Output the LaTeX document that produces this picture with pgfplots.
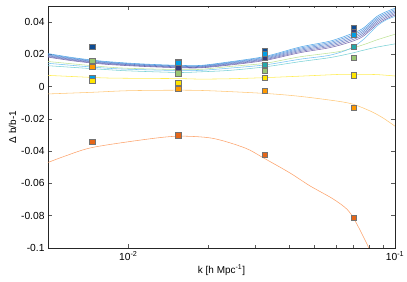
\documentclass[border=0pt]{standalone}
\usepackage{fontspec}
\setmainfont{Liberation Sans}
\usepackage{pgfplots}
\pgfplotsset{compat=1.18}
\definecolor{lA}{rgb}{0.25,0.62,0.90}
\definecolor{lB}{rgb}{0.29,0.56,0.86}
\definecolor{lC}{rgb}{0.32,0.51,0.81}
\definecolor{lD}{rgb}{0.35,0.46,0.76}
\definecolor{lE}{rgb}{0.38,0.41,0.71}
\definecolor{lF}{rgb}{0.42,0.36,0.66}
\definecolor{lGreen}{rgb}{0.72,0.88,0.55}
\definecolor{lLblue}{rgb}{0.40,0.74,0.95}
\definecolor{lTeal}{rgb}{0.42,0.80,0.82}
\definecolor{lYellow}{rgb}{1.00,0.92,0.25}
\definecolor{lLorange}{rgb}{1.00,0.76,0.42}
\definecolor{lOrange}{rgb}{0.99,0.60,0.36}
\definecolor{mNavy}{rgb}{0.05,0.30,0.58}
\definecolor{mBlue}{rgb}{0.00,0.62,0.90}
\definecolor{mPurple}{rgb}{0.22,0.24,0.48}
\definecolor{mTeal}{rgb}{0.15,0.66,0.66}
\definecolor{mGreen}{rgb}{0.60,0.78,0.45}
\definecolor{mYellow}{rgb}{1.00,0.90,0.00}
\definecolor{mOrange}{rgb}{1.00,0.60,0.00}
\definecolor{mDorange}{rgb}{0.90,0.40,0.10}
\pgfplotsset{
  ln/.style={no marks, smooth, tension=0.5, line width=0.55pt, opacity=0.9},
  mk/.style={only marks, mark=square*, mark size=2.6pt, mark options={draw=black!55, line width=0.6pt, fill=#1}},
}
\begin{document}
\fontsize{10}{12}\selectfont
\begin{tikzpicture}
\begin{axis}[
  scale only axis, width=347bp, height=242bp,
  xmode=log, xmin=0.005, xmax=0.1, ymin=-0.1, ymax=0.05,
  xtick={0.01,0.1}, xticklabels={10\textsuperscript{-2},10\textsuperscript{-1}},
  ytick={-0.1,-0.08,-0.06,-0.04,-0.02,0,0.02,0.04},
  yticklabels={-0.1,-0.08,-0.06,-0.04,-0.02,0,0.02,0.04},
  tick align=inside, major tick length=4bp, minor tick length=2.5bp,
  axis line style={black!85, line width=0.7pt},
  tick style={black!65, line width=0.5pt},
  xlabel={k [h Mpc\textsuperscript{-1}]}, ylabel={Δ b/b-1},
  xlabel style={yshift=2bp},
  ylabel style={yshift=-2bp},
  ticklabel style={font=\fontsize{10.3}{12}\selectfont},
  label style={font=\fontsize{10}{12}\selectfont},
  clip=true,
]
% bundle lines
\addplot[ln, lA] coordinates {(0.005,0.0205)(0.0062,0.0180)(0.0079,0.0159)(0.01,0.0146)(0.0125,0.01375)(0.0154,0.01325)(0.0186,0.01315)(0.024,0.0154)(0.0326,0.01875)(0.044,0.02455)(0.057,0.0282)(0.0677,0.0324)(0.0758,0.0361)(0.0855,0.0435)(0.093,0.04655)(0.1,0.0486)};
\addplot[ln, lB] coordinates {(0.005,0.02006)(0.0062,0.0176)(0.0079,0.01554)(0.01,0.01428)(0.0125,0.01345)(0.0154,0.01295)(0.0186,0.01285)(0.024,0.0150)(0.0326,0.01825)(0.044,0.02385)(0.057,0.0274)(0.0677,0.03144)(0.0758,0.0351)(0.0855,0.0425)(0.093,0.04565)(0.1,0.04776)};
\addplot[ln, lC] coordinates {(0.005,0.01962)(0.0062,0.0172)(0.0079,0.01518)(0.01,0.01396)(0.0125,0.01315)(0.0154,0.01265)(0.0186,0.01255)(0.024,0.0146)(0.0326,0.01775)(0.044,0.02315)(0.057,0.0266)(0.0677,0.03048)(0.0758,0.0341)(0.0855,0.0415)(0.093,0.04475)(0.1,0.04692)};
\addplot[ln, lD] coordinates {(0.005,0.01918)(0.0062,0.0168)(0.0079,0.01482)(0.01,0.01364)(0.0125,0.01285)(0.0154,0.01235)(0.0186,0.01225)(0.024,0.0142)(0.0326,0.01725)(0.044,0.02245)(0.057,0.0258)(0.0677,0.02952)(0.0758,0.0331)(0.0855,0.0405)(0.093,0.04385)(0.1,0.04608)};
\addplot[ln, lE] coordinates {(0.005,0.01874)(0.0062,0.0164)(0.0079,0.01446)(0.01,0.01332)(0.0125,0.01255)(0.0154,0.01205)(0.0186,0.01195)(0.024,0.0138)(0.0326,0.01675)(0.044,0.02175)(0.057,0.0250)(0.0677,0.02856)(0.0758,0.0321)(0.0855,0.0395)(0.093,0.04295)(0.1,0.04524)};
\addplot[ln, lF] coordinates {(0.005,0.0183)(0.0062,0.0160)(0.0079,0.0141)(0.01,0.0130)(0.0125,0.01225)(0.0154,0.01175)(0.0186,0.01165)(0.024,0.0134)(0.0326,0.01625)(0.044,0.02105)(0.057,0.0242)(0.0677,0.0276)(0.0758,0.0311)(0.0855,0.0385)(0.093,0.04205)(0.1,0.0444)};
% light lines
\addplot[ln, lGreen] coordinates {(0.005,0.0156)(0.0079,0.0125)(0.01,0.0114)(0.0154,0.0106)(0.0186,0.0107)(0.024,0.0125)(0.0326,0.0145)(0.044,0.0185)(0.062,0.0218)(0.0758,0.0259)(0.0855,0.0290)(0.1,0.0325)};
\addplot[ln, lLblue] coordinates {(0.005,0.0145)(0.0079,0.0117)(0.01,0.0108)(0.0154,0.0100)(0.0186,0.0101)(0.024,0.0115)(0.0326,0.0135)(0.044,0.0170)(0.057,0.0195)(0.0677,0.0235)(0.0758,0.0290)(0.0855,0.0375)(0.093,0.0415)(0.1,0.0435)};
\addplot[ln, lTeal] coordinates {(0.005,0.0130)(0.0079,0.0108)(0.01,0.0098)(0.0154,0.0088)(0.0186,0.0092)(0.024,0.0101)(0.0326,0.0123)(0.044,0.0155)(0.057,0.0180)(0.0677,0.0205)(0.0758,0.0225)(0.0855,0.0245)(0.1,0.0265)};
\addplot[ln, lYellow] coordinates {(0.005,0.0070)(0.0079,0.0055)(0.01,0.0052)(0.0154,0.0050)(0.0186,0.0047)(0.024,0.0049)(0.0326,0.0056)(0.044,0.0065)(0.062,0.0076)(0.07,0.0076)(0.085,0.0075)(0.1,0.0066)};
\addplot[ln, lLorange] coordinates {(0.005,-0.0045)(0.0073,-0.0035)(0.01,-0.0025)(0.0154,-0.0022)(0.02,-0.0025)(0.0326,-0.0042)(0.044,-0.0060)(0.061,-0.0090)(0.07,-0.0110)(0.081,-0.0152)(0.09,-0.0193)(0.1,-0.0245)};
\addplot[ln, lOrange] coordinates {(0.005,-0.0470)(0.0058,-0.0430)(0.00733,-0.0377)(0.01158,-0.0327)(0.0154,-0.0307)(0.0207,-0.0320)(0.0274,-0.0380)(0.032,-0.0440)(0.0404,-0.0535)(0.048,-0.0615)(0.0585,-0.0695)(0.0661,-0.0760)(0.0708,-0.0830)(0.0758,-0.0925)(0.0798,-0.1000)(0.082,-0.1060)};
% markers
\addplot[mk=mNavy] coordinates {(0.00733,0.0245)(0.0154,0.0152)(0.0326,0.0224)(0.0702,0.0366)};
\addplot[mk=mPurple] coordinates {(0.0154,0.0115)(0.0326,0.0180)(0.0702,0.0342)};
\addplot[mk=mBlue] coordinates {(0.00733,0.0054)(0.0154,0.0146)(0.0326,0.0204)(0.0702,0.0321)};
\addplot[mk=mTeal] coordinates {(0.0326,0.0134)(0.0702,0.0247)};
\addplot[mk=mGreen] coordinates {(0.00733,0.0160)(0.0154,0.0083)(0.0326,0.0097)(0.0702,0.0181)};
\addplot[mk=mOrange] coordinates {(0.00733,0.0122)(0.0154,-0.0014)(0.0326,-0.0025)(0.0702,-0.0130)};
\addplot[mk=mYellow] coordinates {(0.00733,0.0037)(0.0154,0.0023)(0.0326,0.0054)(0.0702,0.0070)};
\addplot[mk=mDorange] coordinates {(0.00733,-0.0340)(0.0154,-0.0302)(0.0326,-0.0422)(0.0702,-0.0815)};
\end{axis}
\pgfresetboundingbox
\path ([xshift=-48bp,yshift=-34bp]current axis.south west) rectangle ([xshift=12bp,yshift=6bp]current axis.north east);
\end{tikzpicture}
\end{document}
